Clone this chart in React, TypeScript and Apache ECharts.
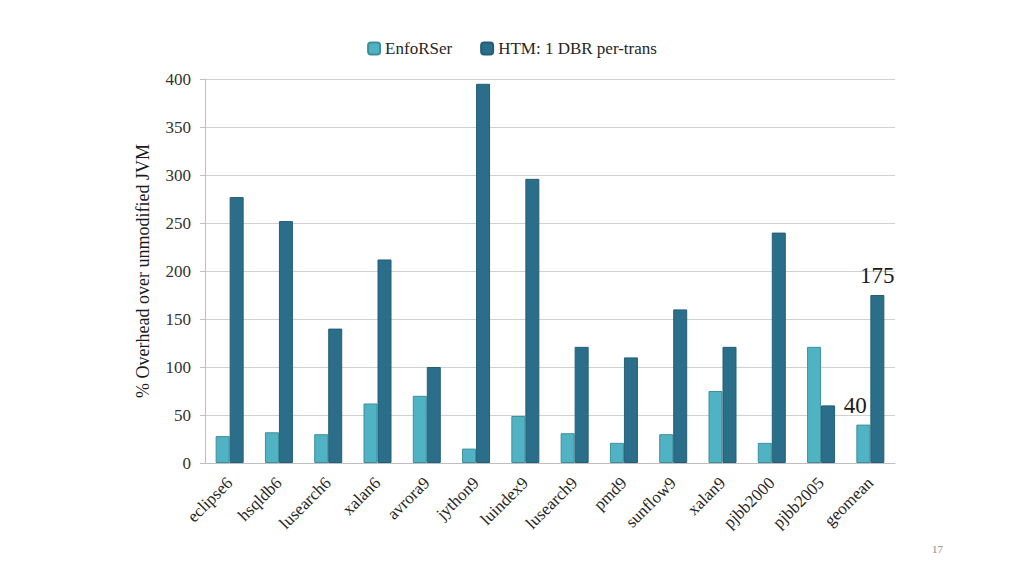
import React, { useEffect, useRef } from "react";
import * as echarts from "echarts";

const categories = [
  "eclipse6", "hsqldb6", "lusearch6", "xalan6", "avrora9", "jython9", "luindex9",
  "lusearch9", "pmd9", "sunflow9", "xalan9", "pjbb2000", "pjbb2005", "geomean",
];
const enforser = [28, 32, 30, 62, 70, 15, 49, 31, 21, 30, 75, 21, 121, 40];
const htm = [277, 252, 140, 212, 100, 395, 296, 121, 110, 160, 121, 240, 60, 175];
const yTicks = [0, 50, 100, 150, 200, 250, 300, 350, 400];
const seriesNames = ["EnfoRSer", "HTM: 1 DBR per-trans"];
const labelIndex = 13;

const FONT = "Liberation Serif";

export default function App() {
  const ref = useRef<HTMLDivElement>(null);
  useEffect(() => {
    if (!ref.current) return;
    const chart = echarts.init(ref.current, null, { renderer: "svg" });
    const mk = (vals: number[], offset: number[]) =>
      vals.map((v, i) =>
        i === labelIndex
          ? {
              value: v,
              label: {
                show: true,
                position: "top",
                offset,
                distance: 8,
                fontFamily: FONT,
                fontSize: 23,
                color: "#1a1a1a",
              },
            }
          : v
      );
    chart.setOption({
      animation: false,
      backgroundColor: "#ffffff",
      textStyle: { fontFamily: FONT },
      legend: {
        top: 35,
        left: "center",
        itemWidth: 12,
        itemHeight: 12,
        itemGap: 28,
        textStyle: { fontFamily: FONT, fontSize: 17, color: "#262626" },
        data: seriesNames,
      },
      grid: { left: 205, right: 129, top: 79, bottom: 113 },
      xAxis: {
        type: "category",
        data: categories,
        axisLine: { show: true, lineStyle: { color: "#bfbfbf" } },
        axisTick: { show: false },
        axisLabel: {
          rotate: 45,
          fontFamily: FONT,
          fontSize: 17,
          color: "#262626",
          margin: 17,
          interval: 0,
        },
      },
      yAxis: {
        type: "value",
        min: yTicks[0],
        max: yTicks[yTicks.length - 1],
        interval: 50,
        name: "% Overhead over unmodified JVM",
        nameLocation: "middle",
        nameGap: 53,
        nameRotate: 90,
        nameTextStyle: { fontFamily: FONT, fontSize: 18, color: "#1a1a1a" },
        axisLine: { show: true, lineStyle: { color: "#bfbfbf" } },
        axisTick: { show: true, length: 5, lineStyle: { color: "#bfbfbf" } },
        splitLine: { lineStyle: { color: "#d0d0d0" } },
        axisLabel: { fontFamily: FONT, fontSize: 17, color: "#333333", margin: 14 },
      },
      series: [
        {
          name: seriesNames[0],
          type: "bar",
          data: mk(enforser, [-8, 0]),
          barWidth: 14,
          barGap: "0%",
          itemStyle: { color: "#4fb3c4", borderColor: "#3f8e9c", borderWidth: 1 },
        },
        {
          name: seriesNames[1],
          type: "bar",
          data: mk(htm, [0, 0]),
          barWidth: 14,
          barGap: "0%",
          itemStyle: { color: "#2a6e8a", borderColor: "#245f77", borderWidth: 1 },
        },
      ],
      graphic: [
        {
          type: "text",
          left: 932,
          top: 543,
          style: { text: "17", fontFamily: FONT, fontSize: 11, fill: "#8c8c8c" },
        },
      ],
    });
    return () => chart.dispose();
  }, []);
  return (
    <div
      ref={ref}
      style={{ position: "fixed", left: 0, top: 0, width: 1024, height: 576 }}
    />
  );
}
